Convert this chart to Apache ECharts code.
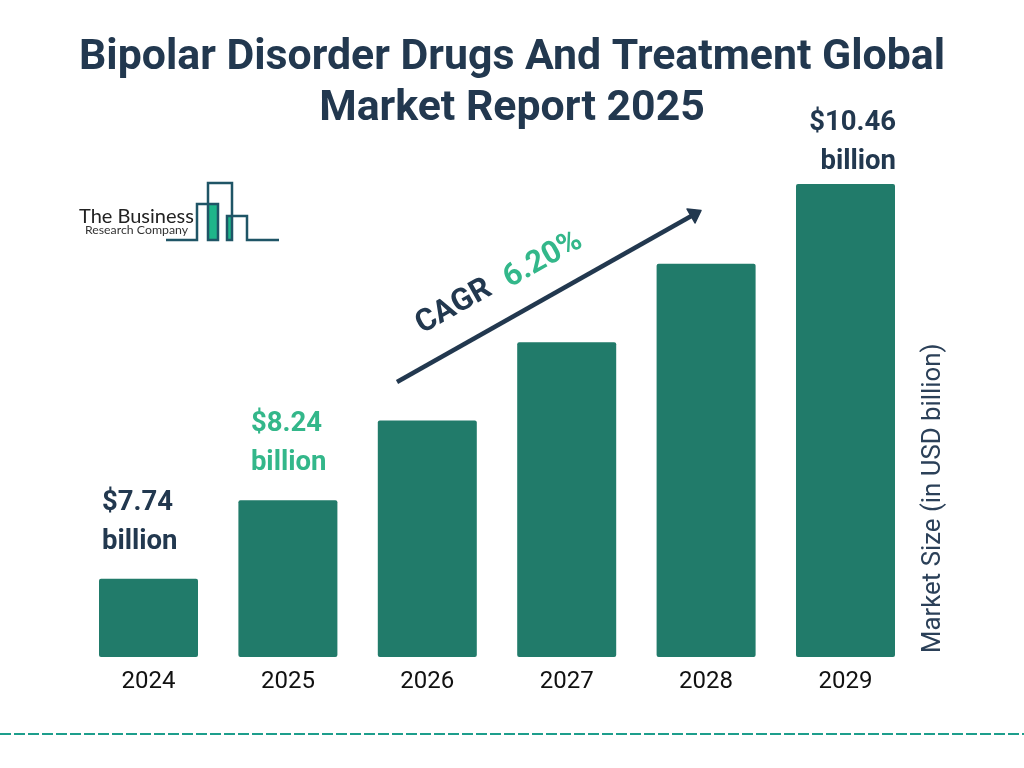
<!DOCTYPE html>
<html style="height: 100%">
   <head>
       <meta charset="utf-8">
       <title>Bipolar Disorder Drugs And Treatment Global Market Report 2025</title>
       <script src="https://cdn.jsdelivr.net/npm/echarts@6/dist/echarts.min.js"></script>
   </head>
   <body style="height: 100%; margin: 0; background: #fff">
       <div id="container" style="width: 1024px; height: 768px"></div>
       <script type="text/javascript">

// values: only first, second and last are printed
const years = ['2024', '2025', '2026', '2027', '2028', '2029'];
const marketSize = [7.74, 8.28, 8.83, 9.37, 9.91, 10.46];
const barLabels = ['$7.74\nbillion', '$8.24\nbillion', '', '', '', '$10.46\nbillion'];

const navy = '#22384f';
const green = '#33b78a';
const logoBlue = '#1f5566';
const angle = Math.atan2(172, 305);

const labelColors = [navy, green, navy, navy, navy, navy];
const labelAligns = ['left', 'left', 'left', 'left', 'left', 'right'];
const labelShifts = [-46.5, -37, 0, 0, 0, 50.5];
const labelGaps = [17, 18, 0, 0, 0, 2];

let chart = echarts.init(document.getElementById('container'));

chart.setOption({
  animation: false,
  title: {
    text: 'Bipolar Disorder Drugs And Treatment Global\nMarket Report 2025',
    left: 'center',
    top: 28,
    textStyle: {
      fontFamily: 'Roboto',
      fontSize: 42.8,
      fontWeight: 'bold',
      color: navy,
      lineHeight: 51
    }
  },
  grid: { left: 78.8, width: 836.4, top: 184, bottom: 111 },
  xAxis: {
    type: 'category',
    data: years,
    axisLine: { show: false },
    axisTick: { show: false },
    axisLabel: {
      fontFamily: 'Roboto',
      fontSize: 24,
      color: '#111',
      margin: 13
    }
  },
  yAxis: {
    type: 'value',
    position: 'right',
    offset: 18,
    min: 7.2,
    max: 10.46,
    splitLine: { show: false },
    axisLine: { show: false },
    axisTick: { show: false },
    axisLabel: { show: false },
    name: 'Market Size (in USD billion)',
    nameLocation: 'start',
    nameRotate: 90,
    nameGap: -4,
    nameTextStyle: {
      fontFamily: 'Roboto',
      fontSize: 25.8,
      color: '#2b4058',
      align: 'left',
      verticalAlign: 'middle'
    }
  },
  series: [{
    type: 'bar',
    barWidth: 99,
    itemStyle: { color: '#217b6a', borderRadius: 2 },
    data: marketSize.map(function (v, i) {
      return {
        value: v,
        label: {
          show: barLabels[i] !== '',
          position: 'top',
          distance: labelGaps[i],
          offset: [labelShifts[i], 0],
          formatter: barLabels[i],
          fontFamily: 'Roboto',
          fontSize: 27.5,
          fontWeight: 'bold',
          lineHeight: 39,
          align: labelAligns[i],
          color: labelColors[i]
        }
      };
    })
  }],
  graphic: [
    // CAGR arrow
    { type: 'line', shape: { x1: 397, y1: 382, x2: 694, y2: 214.5 },
      style: { stroke: navy, lineWidth: 4.5 } },
    { type: 'polygon', shape: { points: [[701, 210.5], [687, 209], [695, 223]] },
      style: { fill: navy, stroke: navy, lineWidth: 1.5, lineJoin: 'round' } },
    { type: 'text', x: 454, y: 307, rotation: angle,
      style: { text: 'CAGR', fontFamily: 'Roboto', fontSize: 31, fontWeight: 'bold', fill: navy,
        align: 'center', verticalAlign: 'middle' } },
    { type: 'text', x: 543, y: 260, rotation: angle,
      style: { text: '6.20%', fontFamily: 'Roboto', fontSize: 31, fontWeight: 'bold', fill: green,
        align: 'center', verticalAlign: 'middle' } },
    // logo
    { type: 'rect', shape: { x: 208, y: 204, width: 10, height: 36 }, style: { fill: '#1fb58a' } },
    { type: 'rect', shape: { x: 227, y: 216, width: 5, height: 24 }, style: { fill: '#1fb58a' } },
    { type: 'polyline',
      shape: { points: [[166, 240], [197, 240], [197, 204], [218, 204], [218, 240], [208, 240], [208, 183],
        [232, 183], [232, 240], [227, 240], [227, 216], [247, 216], [247, 240], [279, 240]] },
      style: { stroke: logoBlue, lineWidth: 2.5, fill: 'none' } },
    { type: 'text', x: 79, y: 217,
      style: { text: 'The Business', fontFamily: 'Lato', fontSize: 20, fill: '#222', verticalAlign: 'middle' } },
    { type: 'text', x: 85, y: 230,
      style: { text: 'Research Company', fontFamily: 'Lato', fontSize: 12.3, fill: '#333', verticalAlign: 'middle' } },
    // dashed footer rule
    { type: 'line', shape: { x1: 0, y1: 734, x2: 1024, y2: 734 },
      style: { stroke: '#1d9e8c', lineWidth: 2, lineDash: [11, 3] } }
  ]
});

       </script>
   </body>
</html>
